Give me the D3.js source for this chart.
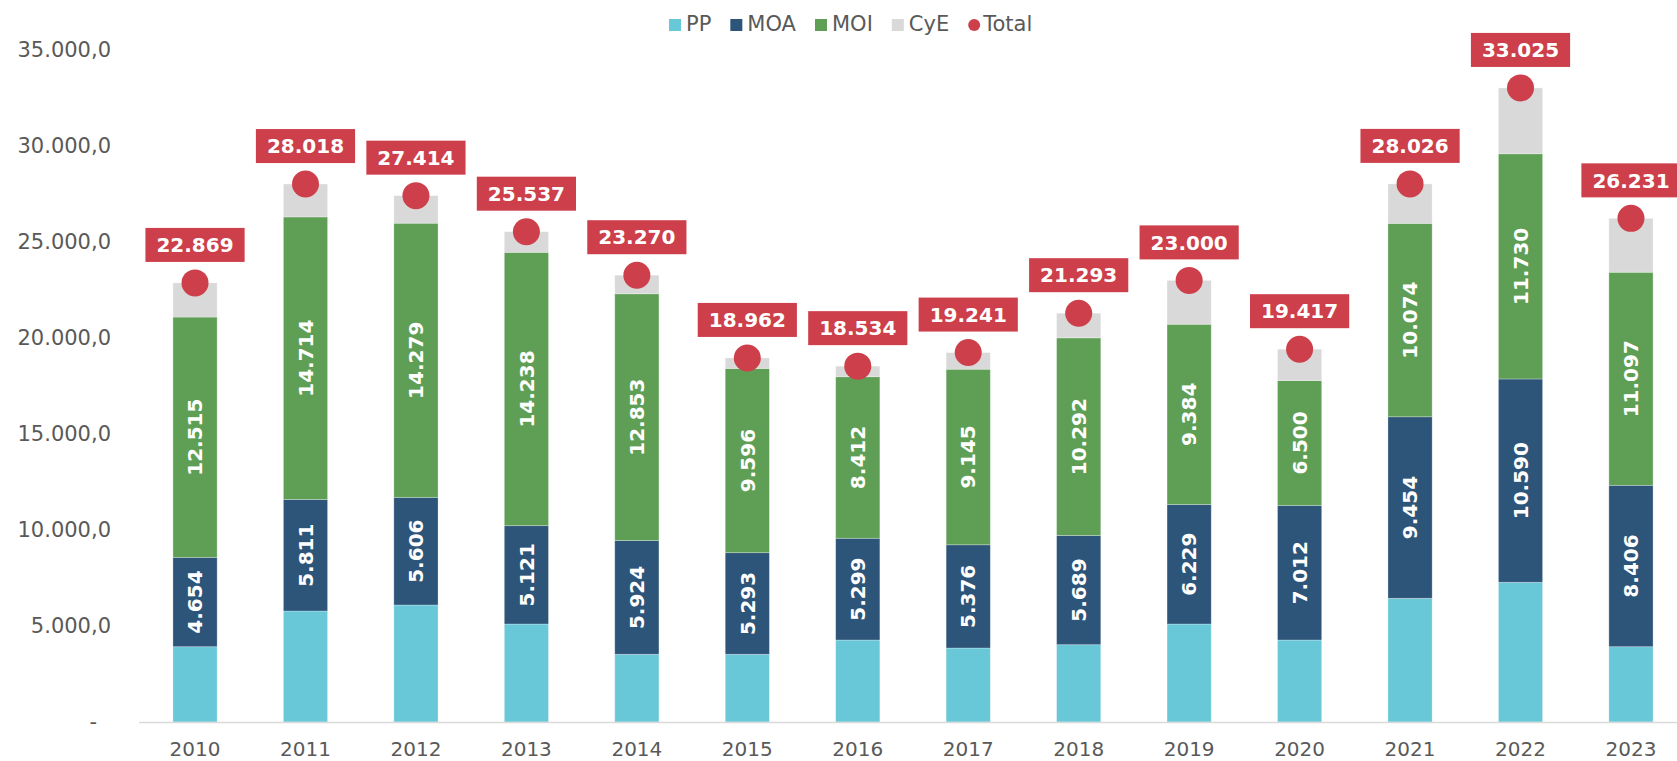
<!DOCTYPE html>
<html>
<head>
<meta charset="utf-8">
<script src="https://cdn.jsdelivr.net/npm/d3@7"></script>
<style>
  body { margin: 0; background: #fff; }
  svg text { font-family: "DejaVu Sans", Verdana, sans-serif; }
</style>
</head>
<body>
<div id="chart"></div>
<script>
// data
let years = ["2010", "2011", "2012", "2013", "2014", "2015", "2016", "2017", "2018", "2019", "2020", "2021", "2022", "2023"]
let pp  = [3922, 5781, 6094, 5104, 3526, 3526, 4271, 3854, 4026, 5104, 4271, 6443, 7276, 3922]
let moa = [4654, 5811, 5606, 5121, 5924, 5293, 5299, 5376, 5689, 6229, 7012, 9454, 10590, 8406]
let moi = [12515, 14714, 14279, 14238, 12853, 9596, 8412, 9145, 10292, 9384, 6500, 10074, 11730, 11097]
let cye = [1778, 1712, 1435, 1074, 967, 547, 552, 866, 1286, 2283, 1634, 2055, 3429, 2806]
let totals = [22869, 28018, 27414, 25537, 23270, 18962, 18534, 19241, 21293, 23000, 19417, 28026, 33025, 26231]
let yTicks = [0, 5000, 10000, 15000, 20000, 25000, 30000, 35000]

let seriesNames = ["PP", "MOA", "MOI", "CyE"]
let seriesColors = ["#69C8D8", "#2D5479", "#5F9F55", "#D9D9D9"]
let totalColor = "#CD3F4A"
let textColor = "#595959"

let rows = years.map((y, i) => ({year: y, PP: pp[i], MOA: moa[i], MOI: moi[i], CyE: cye[i], total: totals[i]}))

let W = 1677, H = 761
let svg = d3.select("#chart").append("svg").attr("width", W).attr("height", H)

let x = d3.scaleBand().domain(years).range([139.8, 1686.2]).paddingInner(0.6).paddingOuter(0.3)
let y = d3.scaleLinear().domain([0, 35000]).range([722, 50])

let loc = d3.formatLocale({decimal: ",", thousands: ".", grouping: [3], currency: ["", ""]})
let fmtAxis = loc.format(",.1f")
let fmtInt = loc.format(",d")

// y axis labels (no line)
let yAxis = d3.axisLeft(y).tickValues(yTicks).tickSize(0).tickPadding(0)
    .tickFormat(d => d === 0 ? "-" : fmtAxis(d))
svg.append("g").attr("class", "y-axis").attr("transform", "translate(111,0)").call(yAxis)
svg.select(".y-axis .domain").remove()
svg.selectAll(".y-axis text")
    .attr("font-size", 21).attr("fill", textColor).style("font-family", "DejaVu Sans")
    .attr("dx", d => d === 0 ? -14 : 0)

// stacked bars
let stack = d3.stack().keys(seriesNames)
let layers = stack(rows)

svg.append("g").selectAll("g").data(layers).join("g")
    .attr("fill", (d, i) => seriesColors[i])
    .selectAll("rect").data(d => d).join("rect")
    .attr("x", d => x(d.data.year))
    .attr("width", x.bandwidth())
    .attr("y", d => y(d[1]))
    .attr("height", d => y(d[0]) - y(d[1]))
    .attr("stroke", "#ffffff").attr("stroke-opacity", 0.35).attr("stroke-width", 0.8)

// x axis
let xAxis = d3.axisBottom(x).tickSize(0).tickPadding(20)
svg.append("g").attr("class", "x-axis").attr("transform", "translate(0,722)").call(xAxis)
svg.select(".x-axis .domain").attr("stroke", "#D9D9D9").attr("stroke-width", 1.5)
    .attr("d", "M139,0.5H1677")
svg.selectAll(".x-axis text").attr("font-size", 20).attr("fill", textColor)
    .style("font-family", "DejaVu Sans")

// rotated value labels for MOA and MOI
let labelled = [layers[1], layers[2]]
labelled.forEach(layer => {
    svg.append("g").selectAll("text").data(layer).join("text")
        .attr("transform", d => `translate(${x(d.data.year) + x.bandwidth() / 2},${(y(d[0]) + y(d[1])) / 2}) rotate(-90)`)
        .attr("text-anchor", "middle")
        .attr("dy", "0.36em")
        .attr("font-size", 20).attr("font-weight", "bold").attr("fill", "#ffffff")
        .text(d => fmtInt(d[1] - d[0]))
})

// total dots
svg.append("g").selectAll("circle").data(rows).join("circle")
    .attr("cx", d => x(d.year) + x.bandwidth() / 2)
    .attr("cy", d => y(d.total))
    .attr("r", 13.5)
    .attr("fill", totalColor)

// total labels in red boxes
let tl = svg.append("g").selectAll("g").data(rows).join("g")
    .attr("transform", d => `translate(${x(d.year) + x.bandwidth() / 2},${y(d.total) - 38})`)
tl.append("rect").attr("class", "box").attr("fill", totalColor)
tl.append("text")
    .attr("text-anchor", "middle").attr("dy", "0.36em")
    .attr("font-size", 20).attr("font-weight", "bold").attr("fill", "#ffffff")
    .text(d => fmtInt(d.total))
tl.each(function() {
    let g = d3.select(this)
    let w = g.select("text").node().getComputedTextLength() + 22
    g.select("rect").attr("x", -w / 2).attr("y", -17).attr("width", w).attr("height", 34)
})

// legend
let legend = svg.append("g").attr("transform", "translate(669,23)")
let lx = 0
seriesNames.concat(["Total"]).forEach((name, i) => {
    let item = legend.append("g").attr("transform", `translate(${lx},0)`)
    if (name === "Total") {
        item.append("circle").attr("cx", 6).attr("cy", 2).attr("r", 6).attr("fill", totalColor)
    } else {
        item.append("rect").attr("x", 0).attr("y", -4).attr("width", 12).attr("height", 12).attr("fill", seriesColors[i])
    }
    let t = item.append("text").attr("x", name === "Total" ? 15 : 17).attr("dy", "0.36em")
        .attr("font-size", 21).attr("fill", textColor).text(name)
    lx += (name === "Total" ? 15 : 17) + t.node().getComputedTextLength() + 19
})
</script>
</body>
</html>
